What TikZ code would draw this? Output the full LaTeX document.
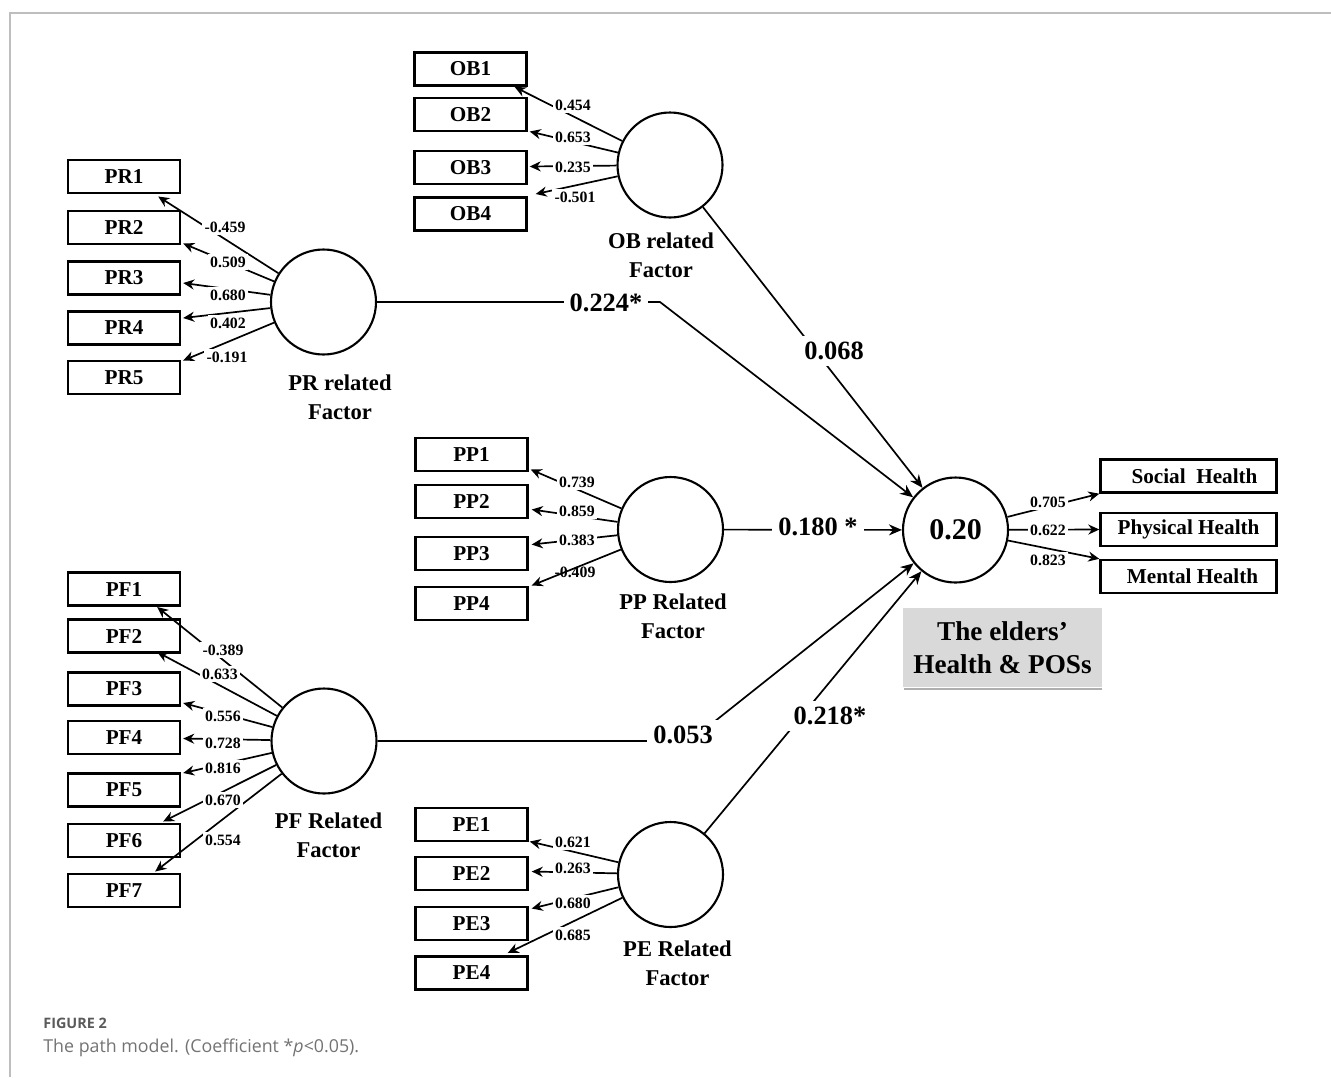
\documentclass[tikz,border=0pt]{standalone}
\usepackage{fontspec}
\setmainfont{Liberation Serif}
\newfontfamily\capfont{Open Sans}
\usetikzlibrary{arrows.meta,calc}
\definecolor{framegray}{RGB}{190,190,190}
\definecolor{boxgray}{RGB}{217,217,217}
\definecolor{shadowgray}{RGB}{175,175,175}
\definecolor{capdark}{RGB}{90,90,90}
\definecolor{caplight}{RGB}{115,115,115}
\begin{document}
\begin{tikzpicture}[x=0.5pt,y=-0.5pt,
  indbox/.style={draw,line width=1.2pt,minimum width=56pt,minimum height=16.5pt,inner sep=0pt,
    font=\fontsize{10.6}{12}\selectfont\bfseries},
  outbox/.style={indbox,minimum width=88pt},
  latent/.style={draw,circle,line width=1.05pt,minimum size=52.5pt,inner sep=0pt},
  facname/.style={align=center,font=\fontsize{11.3}{14.5}\selectfont\bfseries},
  ldline/.style={line width=0.85pt,-{Stealth[length=5.5pt,width=5pt]}},
  pathline/.style={line width=0.85pt,-{Stealth[length=6.5pt,width=5.5pt]}},
  ldlab/.style={fill=white,inner sep=1.2pt,font=\fontsize{7.9}{9}\selectfont\bfseries},
  pathlab/.style={fill=white,inner sep=3pt,font=\fontsize{13.2}{15}\selectfont\bfseries}
]
\useasboundingbox (0,0) rectangle (1331,1077);
% frame
\draw[framegray,line width=1pt] (9.5,1077) -- (9.5,13) -- (1331,13);

% latent variables
\node[latent] (PRc) at (323.5,302) {};
\node[latent] (OBc) at (670,165) {};
\node[latent] (PPc) at (670.5,529.5) {};
\node[latent] (PFc) at (324,741) {};
\node[latent] (PEc) at (670.5,874.5) {};
\node[latent,font=\fontsize{15}{17}\selectfont\bfseries] (T) at (955.5,530) {0.20};

% indicator boxes
\node[indbox] (PR1) at (124,176.5) {PR1};
\node[indbox] (PR2) at (124,227.5) {PR2};
\node[indbox] (PR3) at (124,278) {PR3};
\node[indbox] (PR4) at (124,328) {PR4};
\node[indbox] (PR5) at (124,377.5) {PR5};

\node[indbox] (OB1) at (470.5,69) {OB1};
\node[indbox] (OB2) at (470.5,114.5) {OB2};
\node[indbox] (OB3) at (470.5,167.5) {OB3};
\node[indbox] (OB4) at (470.5,214) {OB4};

\node[indbox] (PP1) at (471.5,454.5) {PP1};
\node[indbox] (PP2) at (471.5,501.5) {PP2};
\node[indbox] (PP3) at (471.5,553.5) {PP3};
\node[indbox] (PP4) at (471.5,603.5) {PP4};

\node[indbox] (PF1) at (124,589) {PF1};
\node[indbox] (PF2) at (124,636) {PF2};
\node[indbox] (PF3) at (124,689) {PF3};
\node[indbox] (PF4) at (124,737.5) {PF4};
\node[indbox] (PF5) at (124,790) {PF5};
\node[indbox] (PF6) at (124,840.5) {PF6};
\node[indbox] (PF7) at (124,890.5) {PF7};

\node[indbox] (PE1) at (471.5,824.5) {PE1};
\node[indbox] (PE2) at (471.5,873.5) {PE2};
\node[indbox] (PE3) at (471.5,923.5) {PE3};
\node[indbox] (PE4) at (471.5,973) {PE4};

\node[outbox] (Soc) at (1188.5,476) {\hspace{6pt}Social\ \ Health};
\node[outbox] (Phy) at (1188.5,529.5) {Physical Health};
\node[outbox] (Men) at (1188.5,576.5) {\hspace{4pt}Mental Health};

% factor names
\node[facname] (PRn) at (340,397.5) {PR related\\Factor};
\node[facname] (OBn) at (661,255.5) {OB related\\Factor};
\node[facname] (PPn) at (673,616) {PP Related\\Factor};
\node[facname] (PFn) at (328.5,835.5) {PF Related\\Factor};
\node[facname] (PEn) at (677.5,963.5) {PE Related\\Factor};

% grey label box
\draw[shadowgray,line width=1pt] (904,688.5) -- (1102,688.5);
\node[fill=boxgray,minimum width=99.5pt,minimum height=39.5pt,inner sep=0pt,align=center,
  font=\fontsize{13.6}{16.5}\selectfont\bfseries] (eld) at (1002.5,647.5) {The elders’\\Health \& POSs};

% loading lines: PR
\draw[ldline] (PRc) -- ($(PR1.east)+(-23,20)$);
\draw[ldline] (PRc) -- ($(PR2.east)+(2,16)$);
\draw[ldline] (PRc) -- ($(PR3.east)+(2,5)$);
\draw[ldline] (PRc) -- ($(PR4.east)+(2,-10)$);
\draw[ldline] (PRc) -- ($(PR5.east)+(2,-17)$);
% OB
\draw[ldline] (OBc) -- ($(OB1.east)+(-13,18)$);
\draw[ldline] (OBc) -- ($(OB2.east)+(2,17)$);
\draw[ldline] (OBc) -- ($(OB3.east)+(2,-1)$);
\draw[ldline] (OBc) -- ($(OB4.east)+(8,-20)$);
% PP
\draw[ldline] (PPc) -- ($(PP1.east)+(2,15)$);
\draw[ldline] (PPc) -- ($(PP2.east)+(3,8)$);
\draw[ldline] (PPc) -- ($(PP3.east)+(3,-9)$);
\draw[ldline] (PPc) -- ($(PP4.east)+(3,-18)$);
% PF
\draw[ldline] (PFc) -- ($(PF1.east)+(-24,18)$);
\draw[ldline] (PFc) -- ($(PF2.east)+(-24,16)$);
\draw[ldline] (PFc) -- ($(PF3.east)+(2,14)$);
\draw[ldline] (PFc) -- ($(PF4.east)+(2,1)$);
\draw[ldline] (PFc) -- ($(PF5.east)+(2,-17)$);
\draw[ldline] (PFc) -- ($(PF6.east)+(-18,-19)$);
\draw[ldline] (PFc) -- ($(PF7.east)+(-26,-19)$);
% PE
\draw[ldline] (PEc) -- ($(PE1.east)+(1,17)$);
\draw[ldline] (PEc) -- ($(PE2.east)+(3,-2)$);
\draw[ldline] (PEc) -- ($(PE3.east)+(3,-15)$);
\draw[ldline] (PEc) -- ($(PE4.east)+(-21,-20)$);
% outcome
\draw[ldline] (T) -- (Soc.south west);
\draw[ldline] (T) -- (Phy.west);
\draw[ldline] (T) -- (Men.north west);

% structural paths
\draw[pathline] (PRc.east) -- (660,302) -- (T);
\draw[pathline] (OBc) -- (T);
\draw[pathline] (PPc) -- (T);
\draw[pathline] (PFc.east) -- (690,741) -- (T);
\draw[pathline] (PEc) -- (T);

% loading labels
\node[ldlab] (lPR1) at (225,227) {-0.459};
\node[ldlab] (lPR2) at (228,262) {0.509};
\node[ldlab] (lPR3) at (228,295) {0.680};
\node[ldlab] (lPR4) at (228,323) {0.402};
\node[ldlab] (lPR5) at (227,357) {-0.191};

\node[ldlab] (lOB1) at (573,105) {0.454};
\node[ldlab] (lOB2) at (573,137) {0.653};
\node[ldlab] (lOB3) at (573,167) {0.235};
\node[ldlab] (lOB4) at (575,197) {-0.501};

\node[ldlab] (lPP1) at (577,482) {0.739};
\node[ldlab] (lPP2) at (577,511) {0.859};
\node[ldlab] (lPP3) at (577,540) {0.383};
\node[ldlab,fill=none] (lPP4) at (575,572) {-0.409};

\node[ldlab] (lPF1) at (223,650) {-0.389};
\node[ldlab] (lPF2) at (220,674) {0.633};
\node[ldlab] (lPF3) at (223,716) {0.556};
\node[ldlab] (lPF4) at (223,743) {0.728};
\node[ldlab] (lPF5) at (223,768) {0.816};
\node[ldlab] (lPF6) at (223,800) {0.670};
\node[ldlab] (lPF7) at (223,840) {0.554};

\node[ldlab] (lPE1) at (573,842) {0.621};
\node[ldlab] (lPE2) at (573,868) {0.263};
\node[ldlab] (lPE3) at (573,903) {0.680};
\node[ldlab] (lPE4) at (573,935) {0.685};

\node[ldlab] (lSoc) at (1048,502) {0.705};
\node[ldlab] (lPhy) at (1048,530) {0.622};
\node[ldlab] (lMen) at (1048,560) {0.823};

% path labels
\node[pathlab] (pPR) at (606,303) {0.224*};
\node[pathlab] (pOB) at (834,351) {0.068};
\node[pathlab] (pPP) at (818,527) {0.180 *};
\node[pathlab] (pPF) at (683,735) {0.053};
\node[pathlab] (pPE) at (830,716) {0.218*};

% caption
\node[anchor=west,inner sep=0pt,text=capdark,font=\capfont\fontsize{7.2}{8}\selectfont\bfseries] (fig) at (43,1023) {FIGURE 2};
\node[anchor=west,inner sep=0pt,text=caplight,font=\capfont\fontsize{8.9}{10}\selectfont] (cap) at (43,1048) {The path model. (Coefficient *{\itshape p}<0.05).};
\end{tikzpicture}
\end{document}
